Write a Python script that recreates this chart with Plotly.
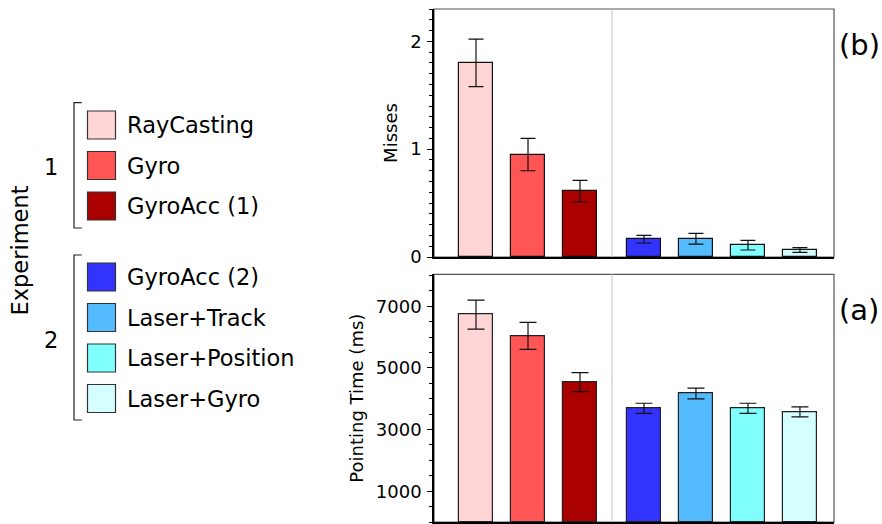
import plotly.graph_objects as go

# ---------------- data ----------------
methods = ["RayCasting", "Gyro", "GyroAcc (1)", "GyroAcc (2)", "Laser+Track", "Laser+Position", "Laser+Gyro"]
experiment = [1, 1, 1, 2, 2, 2, 2]
misses = [1.80, 0.95, 0.61, 0.165, 0.17, 0.11, 0.065]
misses_err = [0.22, 0.15, 0.10, 0.035, 0.05, 0.045, 0.022]
pointing_time = [6730, 6040, 4540, 3690, 4170, 3690, 3575]
pointing_time_err = [470, 440, 310, 165, 175, 165, 160]
colors = ["#FFD5D5", "#FF5555", "#AA0000", "#3333FF", "#55BBFF", "#80FFFF", "#D5FFFF"]
misses_ticks = [0, 1, 2]
time_ticks = [1000, 3000, 5000, 7000]

# ---------------- layout helpers ----------------
W, H = 882, 524
ML, MR, MT, MB = 434, 48, 9, 2
PW, PH = W - ML - MR, H - MT - MB
FONT = "DejaVu Sans"
GROUP_GAP = 0.23

def px_x(x):
    return (x - ML) / PW

def px_y(y):
    return 1 - (y - MT) / PH

xpos = [i + GROUP_GAP * (g - 1) for i, g in enumerate(experiment)]
sep = (xpos[2] + xpos[3]) / 2
xrange_ = [-0.808, 6.885]

fig = go.Figure()
fig.add_trace(go.Bar(
    x=xpos, y=misses, width=0.67, marker=dict(color=colors, line=dict(color="#111", width=1.2)),
    error_y=dict(type="data", array=misses_err, color="#111", thickness=1.2, width=7.5),
    xaxis="x", yaxis="y", showlegend=False, hovertext=methods))
fig.add_trace(go.Bar(
    x=xpos, y=pointing_time, width=0.67, marker=dict(color=colors, line=dict(color="#222", width=1.2)),
    error_y=dict(type="data", array=pointing_time_err, color="#111", thickness=1.2, width=8.5),
    xaxis="x2", yaxis="y2", showlegend=False, hovertext=methods))

top_dom = [px_y(257), 1]
bot_dom = [0, px_y(274.3)]

xcommon = dict(range=xrange_, showticklabels=False, ticks="", showgrid=False, zeroline=False,
               showline=True, linecolor="black", linewidth=1.5, fixedrange=True, automargin=False)
ycommon = dict(showgrid=False, zeroline=False, showline=True, linecolor="black", linewidth=1.5,
               ticks="outside", ticklen=5, tickwidth=1.2, tickcolor="black", automargin=False,
               tickfont=dict(family=FONT, size=18, color="black"), fixedrange=True,
               title_font=dict(family=FONT, size=18, color="black"), ticklabelstandoff=2)

fig.update_layout(
    width=W, height=H, margin=dict(l=ML, r=MR, t=MT, b=MB, autoexpand=False),
    paper_bgcolor="white", plot_bgcolor="white", bargap=0,
    xaxis=dict(domain=[0, 1], anchor="y", **xcommon),
    xaxis2=dict(domain=[0, 1], anchor="y2", **xcommon),
    yaxis=dict(domain=top_dom, anchor="x", range=[0, 2.3], tickvals=misses_ticks,
               minor=dict(dtick=0.1, tick0=0, ticks="outside", ticklen=3, tickwidth=1, tickcolor="black"),
               title=dict(text="Misses", standoff=8), **ycommon),
    yaxis2=dict(domain=bot_dom, anchor="x2", range=[0, 8040], tickvals=time_ticks,
                minor=dict(dtick=500, tick0=0, ticks="outside", ticklen=3, tickwidth=1, tickcolor="black"),
                title=dict(text="Pointing Time (ms)", standoff=8), **ycommon),
)

shapes = []
annotations = []
for xr, yr in (("x", "y"), ("x2", "y2")):
    # grey frame (top/right)
    shapes.append(dict(type="rect", xref=f"{xr} domain", yref=f"{yr} domain", x0=0, x1=1, y0=0, y1=1,
                       line=dict(color="#555", width=1.2), layer="below"))
    # experiment separator
    shapes.append(dict(type="line", xref=xr, yref=f"{yr} domain", x0=sep, x1=sep, y0=0, y1=1,
                       line=dict(color="#cccccc", width=1.2), layer="below"))

annotations.append(dict(text="(b)", xref="paper", yref="paper", x=px_x(837), y=px_y(45),
                        xanchor="left", yanchor="middle", showarrow=False,
                        font=dict(family=FONT, size=29, color="black")))
annotations.append(dict(text="(a)", xref="paper", yref="paper", x=px_x(837), y=px_y(310),
                        xanchor="left", yanchor="middle", showarrow=False,
                        font=dict(family=FONT, size=29, color="black")))

# ---------------- manual legend ----------------
legend_font = dict(family=FONT, size=22.5, color="black")
row_h = 40.5
g1_top, g2_top = 125, 277
sw = 28
idx_in_group = {1: 0, 2: 0}
for name, col, g in zip(methods, colors, experiment):
    k = idx_in_group[g]
    idx_in_group[g] += 1
    cy = (g1_top if g == 1 else g2_top) + k * row_h
    shapes.append(dict(type="rect", xref="paper", yref="paper",
                       x0=px_x(87.5), x1=px_x(87.5 + sw), y0=px_y(cy - sw / 2), y1=px_y(cy + sw / 2),
                       fillcolor=col, line=dict(color="#333", width=1.2)))
    annotations.append(dict(text=name, xref="paper", yref="paper", x=px_x(125), y=px_y(cy),
                            xanchor="left", yanchor="middle", showarrow=False, font=legend_font))

for g, (ytop, ybot) in ((1, (102.7, 228)), (2, (255, 420))):
    shapes.append(dict(type="path", xref="paper", yref="paper",
                       path=f"M {px_x(81.7)},{px_y(ytop)} L {px_x(74)},{px_y(ytop)} L {px_x(74)},{px_y(ybot)} L {px_x(81.7)},{px_y(ybot)}",
                       line=dict(color="#222", width=1.2)))
    annotations.append(dict(text=str(g), xref="paper", yref="paper", x=px_x(51), y=px_y((ytop + ybot) / 2 + 2),
                            xanchor="center", yanchor="middle", showarrow=False, font=legend_font))

annotations.append(dict(text="Experiment", xref="paper", yref="paper", x=px_x(19.5), y=px_y(251),
                        xanchor="center", yanchor="middle", textangle=-90, showarrow=False, font=legend_font))

fig.update_layout(shapes=shapes, annotations=annotations)
fig.write_html("out.html", config={"displayModeBar": False},
               post_script="document.body.style.margin='0';document.body.style.overflow='hidden';")
